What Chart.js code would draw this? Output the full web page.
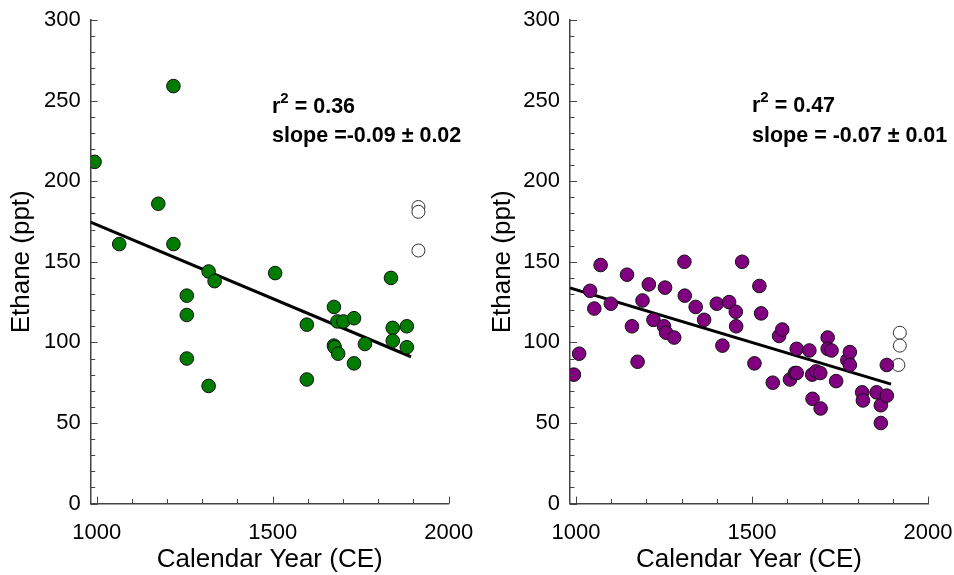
<!DOCTYPE html>
<html>
<head>
<meta charset="utf-8">
<script src="https://cdn.jsdelivr.net/npm/chart.js@4/dist/chart.umd.min.js"></script>
<style>
	html, body { margin: 0; padding: 0; background: #fff; }
	.panel { position: absolute; top: 0; width: 477px; height: 575px; }
	#left { left: 0; }
	#right { left: 477px; }
</style>
</head>
<body>
<div class="panel" id="left"><canvas id="leftChart"></canvas></div>
<div class="panel" id="right"><canvas id="rightChart"></canvas></div>
<script>
// left panel (green)
const leftYears = [994, 1218, 1064, 1175, 1218, 1318, 1335, 1256, 1256, 1256, 1318, 1507, 1597, 1597, 1674, 1684, 1701, 1731, 1674, 1676, 1686, 1731, 1762, 1836, 1841, 1841, 1881, 1881];
const leftEthane = [212, 259, 161, 186, 161, 144, 138, 129, 117, 90, 73, 143, 111, 77, 122, 113, 113, 115, 98, 97, 93, 87, 99, 140, 109, 101, 110, 97];
const leftOpenYears = [1914, 1914, 1914];
const leftOpenEthane = [184, 181, 157];
const leftFitYears = [981, 1893];
const leftFitEthane = [174.8, 91.1];

// right panel (purple)
const rightYears = [994, 1009, 1040, 1052, 1070, 1099, 1145, 1159, 1175, 1189, 1207, 1220, 1250, 1256, 1253, 1279, 1308, 1309, 1340, 1364, 1400, 1416, 1435, 1454, 1455, 1472, 1507, 1521, 1526, 1559, 1577, 1586, 1608, 1622, 1627, 1627, 1663, 1671, 1682, 1694, 1672, 1695, 1715, 1715, 1726, 1739, 1771, 1778, 1778, 1813, 1815, 1854, 1866, 1883, 1866, 1883];
const rightEthane = [80, 93, 132, 121, 148, 124, 142, 110, 88, 126, 136, 114, 110, 106, 134, 103, 150, 129, 122, 114, 124, 98, 125, 119, 110, 150, 87, 135, 118, 75, 104, 108, 77, 81, 81, 96, 95, 80, 82, 81, 65, 59, 103, 96, 95, 76, 89, 94, 86, 69, 64, 69, 61, 67, 50, 86];
const rightOpenYears = [1920, 1920, 1916];
const rightOpenEthane = [106, 98, 86];
const rightFitYears = [983, 1895];
const rightFitEthane = [133.8, 74.1];

const xTicks = [1000, 1500, 2000];
const yTicks = [0, 50, 100, 150, 200, 250, 300];
const xRange = [983, 2000];
const yRange = [0, 300];

Chart.defaults.font.family = "'Liberation Sans', Arial, sans-serif";
Chart.defaults.color = "#000";

const toPoints = (xs, ys) => xs.map((x, i) => ({ x: x, y: ys[i] }));

// small inward ticks on both axes
const inwardTicks = {
	id: "inwardTicks",
	afterDraw(chart) {
		const { ctx, scales: { x, y } } = chart;
		ctx.save();
		ctx.strokeStyle = "#444";
		ctx.lineWidth = 1;
		ctx.beginPath();
		for (let v = yRange[0]; v <= yRange[1]; v += 10) {
			const py = Math.round(y.getPixelForValue(v)) + 0.5;
			const len = v % 50 === 0 ? 7 : 4.5;
			ctx.moveTo(x.left, py);
			ctx.lineTo(x.left + len, py);
		}
		for (let v = 1000; v <= xRange[1]; v += 100) {
			const px = Math.round(x.getPixelForValue(v)) + 0.5;
			const len = v % 500 === 0 ? 7 : 4.5;
			ctx.moveTo(px, y.bottom);
			ctx.lineTo(px, y.bottom - len);
		}
		ctx.stroke();
		ctx.restore();
	}
};

// r^2 and slope text
const statsText = {
	id: "statsText",
	afterDraw(chart, args, opts) {
		const ctx = chart.ctx;
		ctx.save();
		ctx.fillStyle = "#000";
		ctx.textBaseline = "alphabetic";
		ctx.textAlign = "left";
		let x = opts.x;
		ctx.font = "bold 21.5px 'Liberation Sans', Arial, sans-serif";
		ctx.fillText("r", x, opts.y1);
		x += ctx.measureText("r").width;
		ctx.font = "bold 15px 'Liberation Sans', Arial, sans-serif";
		ctx.fillText("2", x, opts.y1 - 10);
		x += ctx.measureText("2").width;
		ctx.font = "bold 21.5px 'Liberation Sans', Arial, sans-serif";
		ctx.fillText(" = " + opts.r2, x, opts.y1);
		ctx.fillText(opts.slope, opts.x, opts.y2);
		ctx.restore();
	}
};

function makePanel(id, cfg) {
	new Chart(document.getElementById(id), {
		type: "scatter",
		plugins: [inwardTicks, statsText],
		data: {
			datasets: [
				{
					type: "line",
					data: toPoints(cfg.fitX, cfg.fitY),
					borderColor: "#000",
					borderWidth: 3,
					pointRadius: 0,
					order: 3
				},
				{
					data: toPoints(cfg.openX, cfg.openY),
					backgroundColor: "#fff",
					borderColor: "#333",
					borderWidth: 1,
					pointRadius: 6.5,
					order: 2
				},
				{
					data: toPoints(cfg.xs, cfg.ys),
					backgroundColor: cfg.color,
					borderColor: "#111",
					borderWidth: 1,
					pointRadius: 6.8,
					order: 1
				}
			]
		},
		options: {
			responsive: true,
			maintainAspectRatio: false,
			animation: false,
			layout: { padding: { left: 0, top: 20, right: cfg.padRight, bottom: 0 } },
			plugins: {
				legend: { display: false },
				tooltip: { enabled: false },
				statsText: cfg.stats
			},
			scales: {
				x: {
					type: "linear",
					min: xRange[0],
					max: xRange[1],
					afterBuildTicks: (s) => { s.ticks = xTicks.map((v) => ({ value: v })); },
					afterFit: (s) => { s.height = 71.4; s.paddingRight = 0; s.paddingLeft = 0; },
					grid: { display: false, drawTicks: false },
					border: { display: true, color: "#444", width: 1.5 },
					ticks: { font: { size: 22 }, padding: 16, maxRotation: 0, callback: (v) => String(v) },
					title: {
						display: true,
						text: "Calendar Year (CE)",
						font: { size: 26 },
						padding: { top: 0, bottom: 0 }
					}
				},
				y: {
					min: yRange[0],
					max: yRange[1],
					afterBuildTicks: (s) => { s.ticks = yTicks.map((v) => ({ value: v })); },
					afterFit: (s) => { s.width = cfg.yWidth; s.paddingTop = 0; s.paddingBottom = 0; },
					grid: { display: false, drawTicks: false },
					border: { display: true, color: "#444", width: 1.5 },
					ticks: { font: { size: 22 }, padding: 10, callback: (v) => String(v) },
					title: {
						display: true,
						text: "Ethane (ppt)",
						font: { size: 26 },
						padding: { top: cfg.titlePad, bottom: 0 }
					}
				}
			}
		}
	});
}

makePanel("leftChart", {
	xs: leftYears, ys: leftEthane,
	openX: leftOpenYears, openY: leftOpenEthane,
	fitX: leftFitYears, fitY: leftFitEthane,
	color: "#007d00",
	yWidth: 90.7, padRight: 28.3, titlePad: 6,
	stats: { x: 272, y1: 113, y2: 142, r2: "0.36", slope: "slope =-0.09 \u00b1 0.02" }
});

makePanel("rightChart", {
	xs: rightYears, ys: rightEthane,
	openX: rightOpenYears, openY: rightOpenEthane,
	fitX: rightFitYears, fitY: rightFitEthane,
	color: "#800080",
	yWidth: 93, padRight: 26, titlePad: 10,
	stats: { x: 275, y1: 112, y2: 142, r2: "0.47", slope: "slope = -0.07 \u00b1 0.01" }
});
</script>
</body>
</html>
